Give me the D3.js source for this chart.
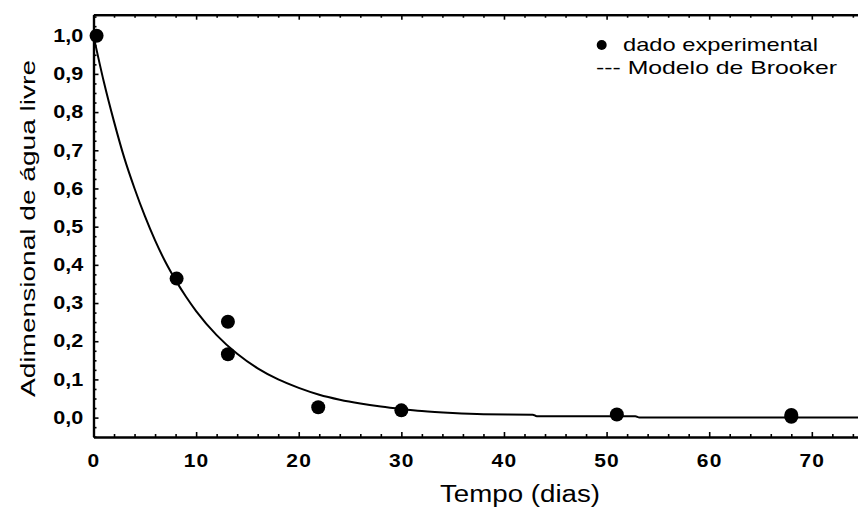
<!DOCTYPE html>
<html>
<head>
<meta charset="utf-8">
<script src="https://cdn.jsdelivr.net/npm/d3@7"></script>
<style>
  body { margin: 0; background: #fff; }
  text { font-family: "Liberation Sans", Arial, sans-serif; }
</style>
</head>
<body>
<div id="chart"></div>
<script>
// dados experimentais (tempo em dias, adimensional de agua livre)
var expTime = [0.3, 8.1, 13.1, 13.1, 21.9, 30, 51, 68, 68];
var expValue = [1.0, 0.364, 0.251, 0.166, 0.027, 0.019, 0.008, 0.007, 0.002];

// curva do modelo de Brooker
var modelTime = [0, 1, 2, 3, 4, 5, 6, 7, 8, 9, 10, 12, 14, 16, 18, 20, 22, 24, 26, 28, 30, 32, 35, 38, 42.8, 43.2, 52.8, 53.2, 60, 70, 74.5];
var modelValue = [1.0, 0.88, 0.775, 0.68, 0.6, 0.528, 0.464, 0.408, 0.36, 0.317, 0.279, 0.216, 0.167, 0.129, 0.1, 0.078, 0.06, 0.047, 0.037, 0.029, 0.0225, 0.017, 0.012, 0.009, 0.0078, 0.0035, 0.0035, 0.0, 0.0, 0.0, 0.0];

var xTicks = [0, 10, 20, 30, 40, 50, 60, 70];
var yTicks = [0, 0.1, 0.2, 0.3, 0.4, 0.5, 0.6, 0.7, 0.8, 0.9, 1.0];
var legendLabels = ["dado experimental", "--- Modelo de Brooker"];
var xTitle = "Tempo (dias)";
var yTitle = "Adimensional de água livre";

var width = 858,
  height = 516;

var svg = d3
  .select("#chart")
  .append("svg")
  .attr("width", width)
  .attr("height", height);

svg.append("rect").attr("width", width).attr("height", height).attr("fill", "#fff");

// escalas
var x = d3.scaleLinear().domain([0, 74.5]).range([93.5, 858]);
var y = d3.scaleLinear().domain([-0.05, 1.055]).range([436.7, 14.7]);

var xMinor = d3.range(0, 76, 2).filter(function (d) { return d % 10 !== 0; });
var yMinor = d3.range(-0.05, 1.06, 0.025).filter(function (d) {
  return Math.abs(Math.round(d * 10) - d * 10) > 0.01;
});

function styleAxis(g) {
  g.select(".domain").attr("stroke", "#000").attr("stroke-width", 2.2);
  g.selectAll(".tick line").attr("stroke", "#000").attr("stroke-width", 1.6);
}

// eixo inferior
svg
  .append("g")
  .attr("transform", "translate(0,437)")
  .call(d3.axisBottom(x).tickValues(xMinor).tickSize(-3).tickSizeOuter(0).tickFormat(""))
  .call(styleAxis);
var xAxis = svg
  .append("g")
  .attr("transform", "translate(0,437)")
  .call(d3.axisBottom(x).tickValues(xTicks).tickSize(-5).tickSizeOuter(0))
  .call(styleAxis);
xAxis
  .selectAll("text")
  .attr("y", 30.5)
  .attr("dy", 0)
  .attr("transform", "scale(1.2,1)")
  .style("font-size", "17.5px")
  .style("font-weight", "bold")
  .style("letter-spacing", "1px")
  .attr("fill", "#000");

// eixo superior (so marcas)
svg
  .append("g")
  .attr("transform", "translate(0,14.7)")
  .call(d3.axisTop(x).tickValues(xMinor).tickSize(-3).tickSizeOuter(0).tickFormat(""))
  .call(styleAxis);
svg
  .append("g")
  .attr("transform", "translate(0,14.7)")
  .call(d3.axisTop(x).tickValues(xTicks).tickSize(-5).tickSizeOuter(0).tickFormat(""))
  .call(styleAxis);

// eixo esquerdo
svg
  .append("g")
  .attr("transform", "translate(93.5,0)")
  .call(d3.axisLeft(y).tickValues(yMinor).tickSize(-3).tickSizeOuter(0).tickFormat(""))
  .call(styleAxis);
var yAxis = svg
  .append("g")
  .attr("transform", "translate(93.5,0)")
  .call(
    d3
      .axisLeft(y)
      .tickValues(yTicks)
      .tickSize(-5)
      .tickSizeOuter(0)
      .tickFormat(function (d) {
        return d3.format(".1f")(d).replace(".", ",");
      })
  )
  .call(styleAxis);
yAxis
  .selectAll("text")
  .attr("x", -8.5)
  .attr("transform", "scale(1.2,1)")
  .style("font-size", "18px")
  .style("font-weight", "bold")
  .attr("fill", "#000");

// curva do modelo
var modelData = modelTime.map(function (t, i) {
  return { t: t, v: modelValue[i] };
});
svg
  .append("path")
  .datum(modelData)
  .attr("fill", "none")
  .attr("stroke", "#000")
  .attr("stroke-width", 2)
  .attr(
    "d",
    d3
      .line()
      .curve(d3.curveMonotoneX)
      .x(function (d) { return x(d.t); })
      .y(function (d) { return y(d.v); })
  );

// pontos experimentais
svg
  .selectAll("circle.exp")
  .data(expTime)
  .enter()
  .append("circle")
  .attr("class", "exp")
  .attr("cx", function (d) { return x(d); })
  .attr("cy", function (d, i) { return y(expValue[i]); })
  .attr("r", 7)
  .attr("fill", "#000");

// legenda
svg.append("circle").attr("cx", 601.7).attr("cy", 45).attr("r", 5).attr("fill", "#000");
svg
  .append("text")
  .attr("x", 623)
  .attr("y", 51)
  .attr("textLength", 195)
  .attr("lengthAdjust", "spacingAndGlyphs")
  .style("font-size", "19px")
  .text(legendLabels[0]);
svg
  .append("text")
  .attr("x", 596)
  .attr("y", 74)
  .attr("textLength", 241)
  .attr("lengthAdjust", "spacingAndGlyphs")
  .style("font-size", "19px")
  .text(legendLabels[1]);

// titulos dos eixos
svg
  .append("text")
  .attr("x", 440)
  .attr("y", 501.7)
  .attr("textLength", 160)
  .attr("lengthAdjust", "spacingAndGlyphs")
  .style("font-size", "23px")
  .text(xTitle);
svg
  .append("text")
  .attr("transform", "translate(35,228.5) rotate(-90)")
  .attr("text-anchor", "middle")
  .attr("textLength", 337)
  .attr("lengthAdjust", "spacingAndGlyphs")
  .style("font-size", "21px")
  .text(yTitle);
</script>
</body>
</html>
